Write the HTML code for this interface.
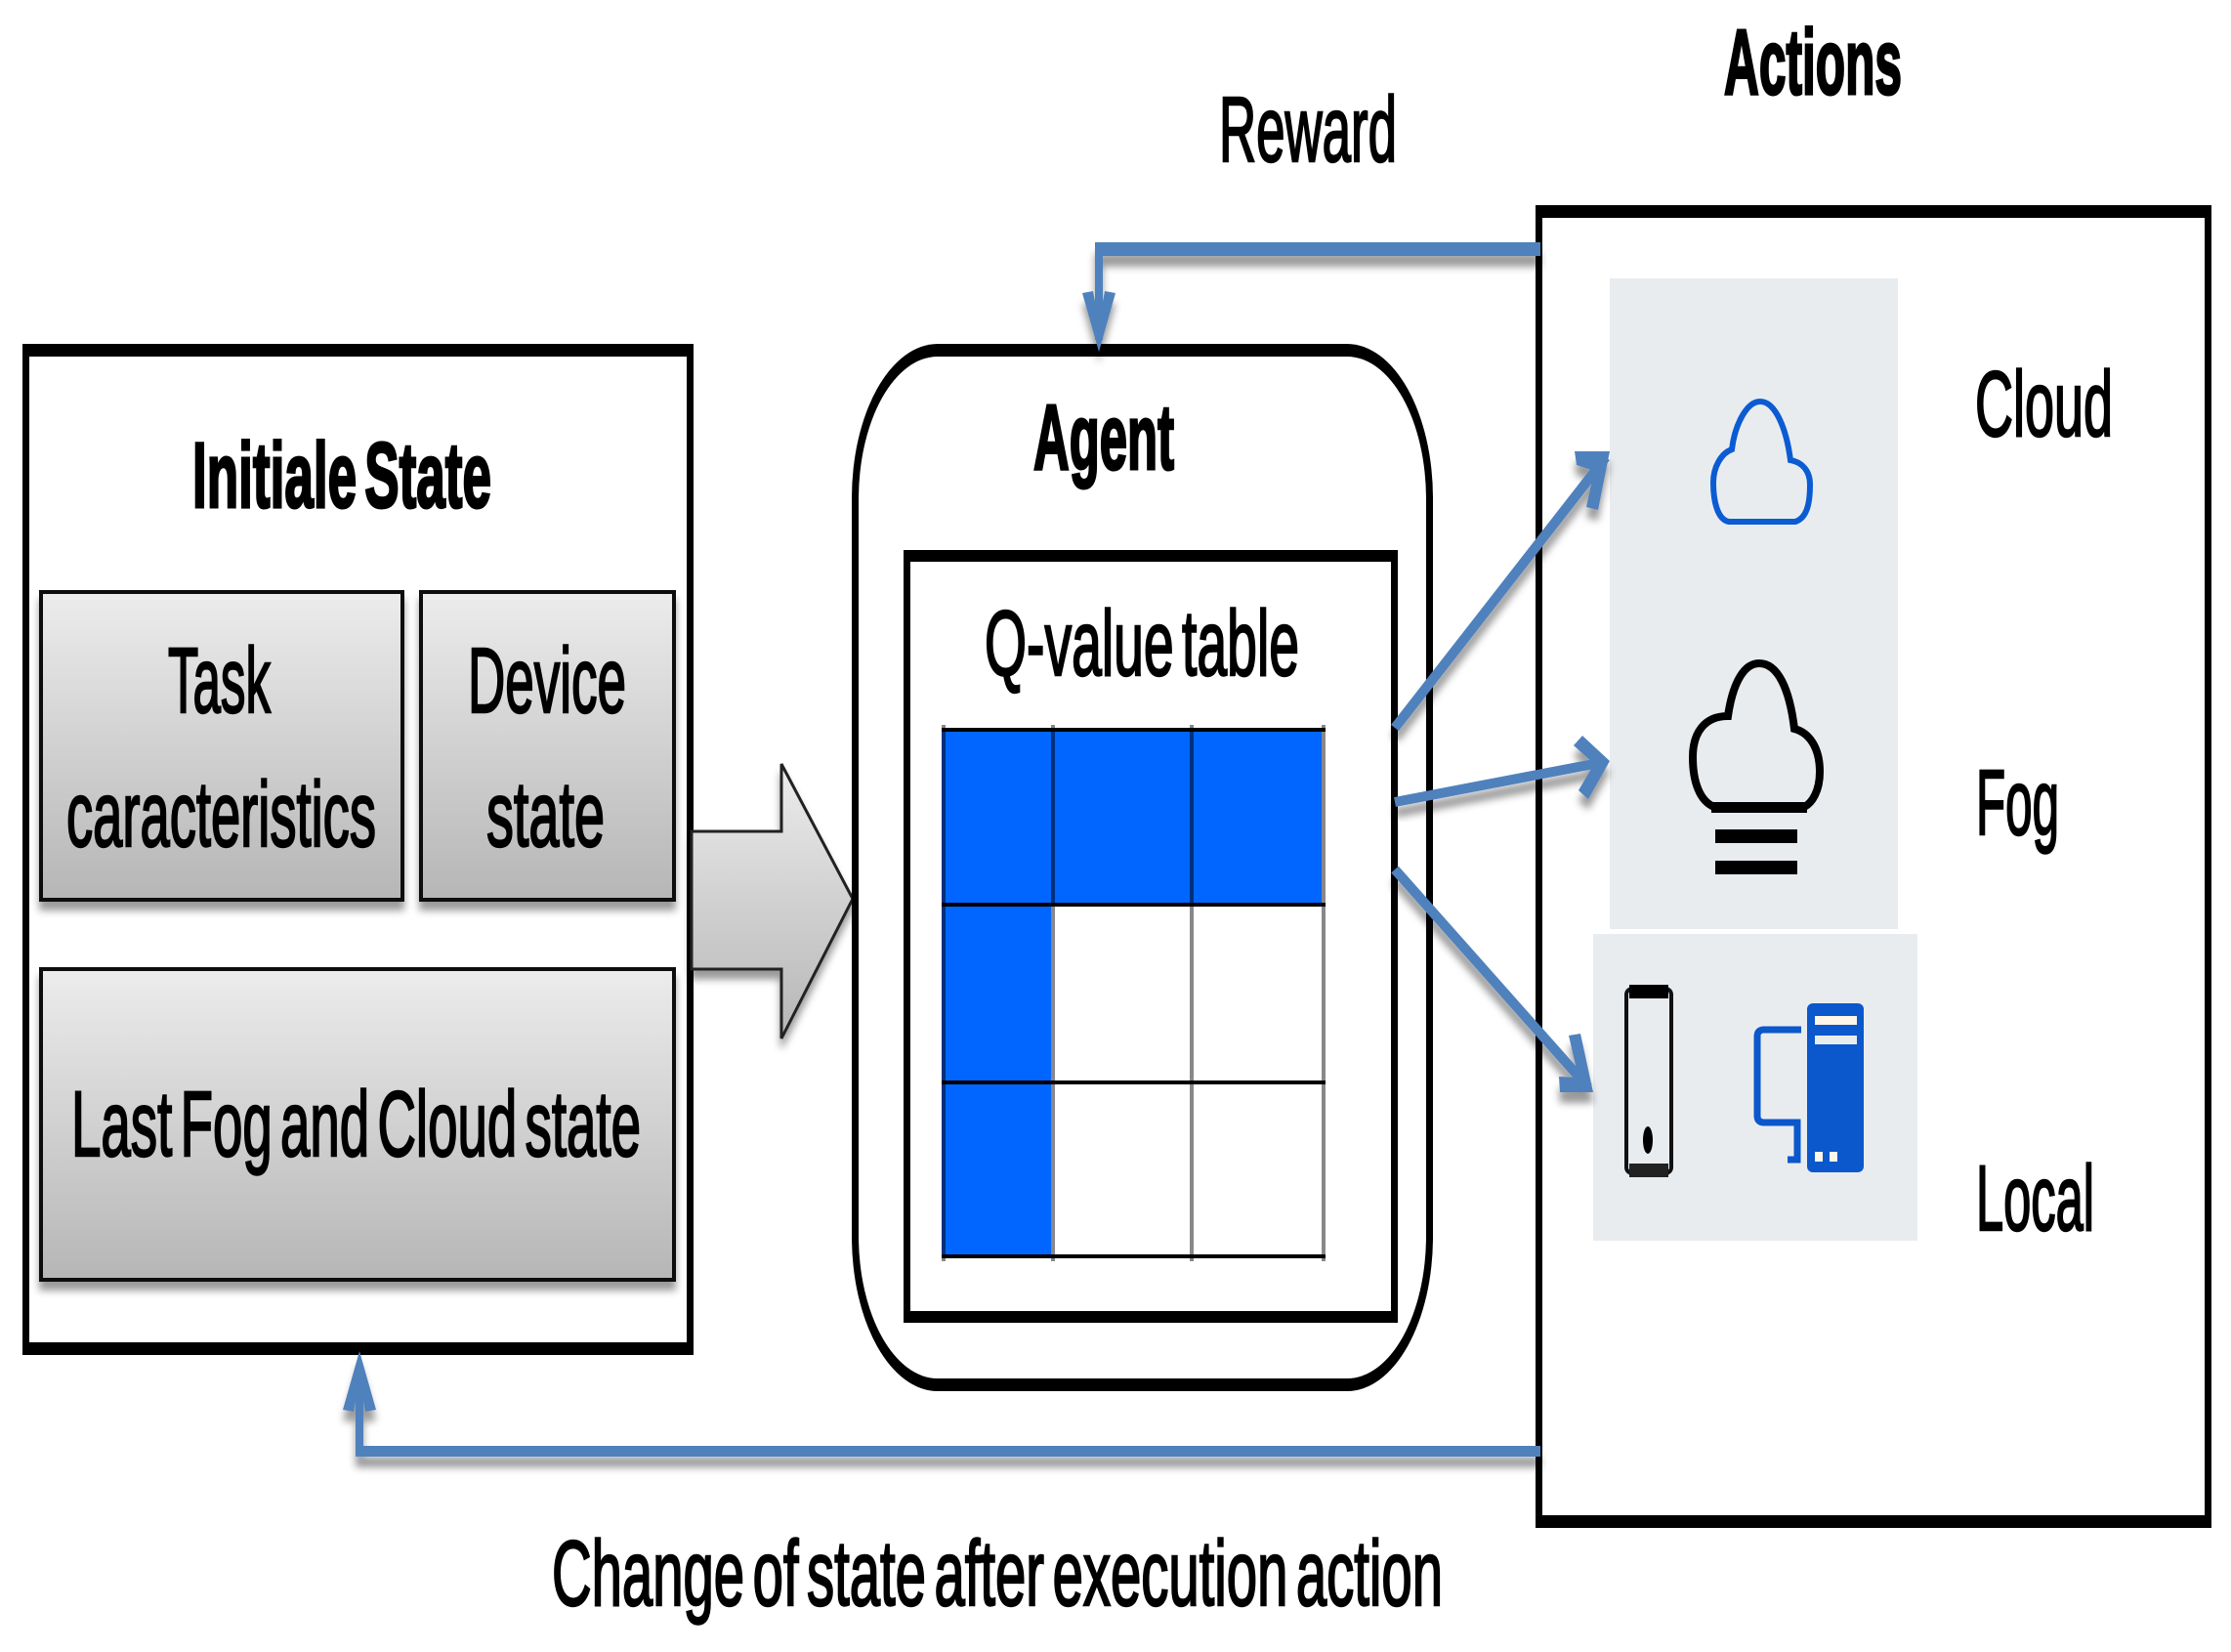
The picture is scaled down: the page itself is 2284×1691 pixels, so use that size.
<!DOCTYPE html>
<html><head><meta charset="utf-8"><style>
html,body{margin:0;padding:0;background:#fff}
svg{display:block}
text{font-family:"Liberation Sans",sans-serif;fill:#000;font-size:95px;word-spacing:-12px}
.r{stroke:#000;stroke-width:2.4px}
.b{font-weight:bold;stroke:#000;stroke-width:3px}
.a{fill:none;stroke:#4f81bd;stroke-width:10;stroke-linejoin:miter}
</style></head><body>
<svg xmlns="http://www.w3.org/2000/svg" width="2284" height="1691" viewBox="0 0 2284 1691">
<defs>
<linearGradient id="g" x1="0" y1="0" x2="0" y2="1"><stop offset="0" stop-color="#ececec"/><stop offset="1" stop-color="#b6b6b6"/></linearGradient>
<filter id="s" x="-10%" y="-10%" width="120%" height="125%"><feDropShadow dx="0" dy="9" stdDeviation="4" flood-color="#000" flood-opacity=".4"/></filter>
<filter id="s2" x="-10%" y="-20%" width="120%" height="150%"><feDropShadow dx="0" dy="11" stdDeviation="4" flood-color="#000" flood-opacity=".4"/></filter>
</defs>
<rect width="2284" height="1691" fill="#fff"/>

<!-- Left box -->
<rect x="23" y="352" width="687" height="1035" fill="#000"/>
<rect x="30" y="365" width="673" height="1009" fill="#fff"/>
<rect x="42" y="606" width="370" height="315" fill="url(#g)" stroke="#111" stroke-width="4" filter="url(#s)"/>
<rect x="431" y="606" width="259" height="315" fill="url(#g)" stroke="#111" stroke-width="4" filter="url(#s)"/>
<rect x="42" y="992" width="648" height="318" fill="url(#g)" stroke="#111" stroke-width="4" filter="url(#s)"/>
<text class="b" x="197" y="519" textLength="306" lengthAdjust="spacingAndGlyphs">Initiale State</text>
<text class="r" x="172" y="729" textLength="105" lengthAdjust="spacingAndGlyphs">Task</text>
<text class="r" x="68" y="866" textLength="317" lengthAdjust="spacingAndGlyphs">caracteristics</text>
<text class="r" x="479" y="729" textLength="162" lengthAdjust="spacingAndGlyphs">Device</text>
<text class="r" x="498" y="866" textLength="121" lengthAdjust="spacingAndGlyphs">state</text>
<text class="r" x="73" y="1183" textLength="583" lengthAdjust="spacingAndGlyphs">Last Fog and Cloud state</text>

<!-- Big arrow -->
<path d="M708 851H800V782L873 920L800 1063V992H708Z" fill="url(#g)" stroke="#222" stroke-width="3" filter="url(#s)"/>

<!-- Agent -->
<rect x="872" y="352" width="595" height="1072" rx="88" ry="158" fill="#000"/>
<rect x="879" y="365" width="581" height="1046" rx="81" ry="146" fill="#fff"/>
<text class="b" x="1058" y="480" textLength="144" lengthAdjust="spacingAndGlyphs">Agent</text>

<rect x="925" y="563" width="506" height="791" fill="#000"/>
<rect x="932" y="575" width="492" height="767" fill="#fff"/>
<text class="r" x="1008" y="691" textLength="322" lengthAdjust="spacingAndGlyphs">Q-value table</text>

<rect x="966" y="747" width="389" height="179" fill="#0066ff"/>
<rect x="966" y="926" width="112" height="360" fill="#0066ff"/>
<g fill="#888">
<rect x="1076" y="926" width="4" height="365"/><rect x="1218" y="926" width="4" height="365"/><rect x="1353" y="742" width="4" height="549"/>
<rect x="1076" y="742" width="4" height="5"/><rect x="1218" y="742" width="4" height="5"/><rect x="964" y="742" width="4" height="5"/><rect x="964" y="1286" width="4" height="5"/>
</g>
<g fill="#00307f">
<rect x="964" y="747" width="4" height="539"/><rect x="1076" y="747" width="4" height="179"/><rect x="1218" y="747" width="4" height="179"/>
</g>
<g fill="#000">
<rect x="964" y="745" width="393" height="4"/><rect x="964" y="924" width="393" height="4"/><rect x="964" y="1106" width="393" height="4"/><rect x="964" y="1284" width="393" height="4"/>
</g>

<!-- Actions box -->
<path fill-rule="evenodd" d="M1572 210H2264V1564H1572ZM1579 223V1551H2257V223Z" fill="#000"/>
<rect x="1648" y="285" width="295" height="666" fill="#e9ecef"/>
<rect x="1631" y="956" width="332" height="314" fill="#e9ecef"/>

<!-- Cloud -->
<path d="M1770 534C1758 532 1754 512 1754 494C1754 478 1762 464 1773 460C1776 435 1788 411 1802 411C1818 411 1829 440 1833 471C1845 473 1853 482 1853 496C1853 515 1850 530 1838 534Z" fill="none" stroke="#0b5bd3" stroke-width="6"/>
<!-- Fog -->
<path d="M1755 826C1740 820 1733 800 1733 775C1733 750 1745 733 1769 733C1773 705 1783 679 1801 679C1820 679 1832 705 1837 746C1852 750 1863 765 1863 790C1863 810 1855 822 1847 826Z" fill="none" stroke="#000" stroke-width="8"/>
<rect x="1752" y="821" width="98" height="11" fill="#000"/>
<rect x="1756" y="849" width="84" height="14" fill="#000"/>
<rect x="1756" y="881" width="84" height="14" fill="#000"/>
<!-- Phone -->
<rect x="1665" y="1012" width="46" height="189" rx="6" fill="none" stroke="#111" stroke-width="4"/>
<rect x="1668" y="1008" width="40" height="14" fill="#000"/>
<rect x="1668" y="1191" width="40" height="14" fill="#222"/>
<ellipse cx="1687" cy="1167" rx="5" ry="14" fill="#000"/>
<!-- Computer -->
<rect x="1850" y="1027" width="58" height="173" rx="6" fill="#0b57cc"/>
<rect x="1858" y="1040" width="43" height="9" fill="#fff6ea"/>
<rect x="1858" y="1060" width="43" height="9" fill="#e9ecef"/>
<rect x="1858" y="1179" width="8" height="10" fill="#fff6ea"/>
<rect x="1873" y="1179" width="8" height="10" fill="#fff6ea"/>
<path d="M1844 1054H1806Q1799 1054 1799 1061V1142Q1799 1149 1806 1149H1840V1187H1830" fill="none" stroke="#0b57cc" stroke-width="7"/>

<text class="b" x="1765" y="96" textLength="182" lengthAdjust="spacingAndGlyphs">Actions</text>
<text class="r" x="1248" y="165" textLength="182" lengthAdjust="spacingAndGlyphs">Reward</text>
<text class="r" x="2022" y="446" textLength="141" lengthAdjust="spacingAndGlyphs">Cloud</text>
<text class="r" x="2023" y="854" textLength="85" lengthAdjust="spacingAndGlyphs">Fog</text>
<text class="r" x="2023" y="1259" textLength="121" lengthAdjust="spacingAndGlyphs">Local</text>
<text class="r" x="565" y="1643" textLength="912" lengthAdjust="spacingAndGlyphs">Change of state after execution action</text>

<!-- Connectors -->
<g filter="url(#s2)">
<rect x="1121" y="248" width="456" height="14" fill="#4f81bd"/>
<rect x="1121" y="248" width="8" height="100" fill="#4f81bd"/>
<path d="M1108 300L1119 298L1125 330L1131 298L1142 300L1125 360Z" fill="#4f81bd"/>
</g>
<g filter="url(#s2)">
<rect x="365" y="1480" width="1212" height="11" fill="#4f81bd"/>
<rect x="364" y="1400" width="8" height="91" fill="#4f81bd"/>
<path d="M351 1443L362 1445L368 1413L374 1445L385 1443L368 1383Z" fill="#4f81bd"/>
</g>
<g filter="url(#s2)">
<path class="a" d="M1428 745L1644 468"/>
<path d="M1612 462L1648 462L1636 522L1624 519L1632 482L1614 476Z" fill="#4f81bd"/>
</g>
<g filter="url(#s2)">
<path class="a" d="M1428 821L1642 780"/>
<path d="M1620 753L1648 779L1626 818L1616 809L1632 782L1611 763Z" fill="#4f81bd"/>
</g>
<g filter="url(#s2)">
<path class="a" d="M1428 890L1626 1113"/>
<path d="M1606 1060L1618 1058L1631 1118L1597 1118L1596 1102L1616 1103Z" fill="#4f81bd"/>
</g>
</svg>
</body></html>
